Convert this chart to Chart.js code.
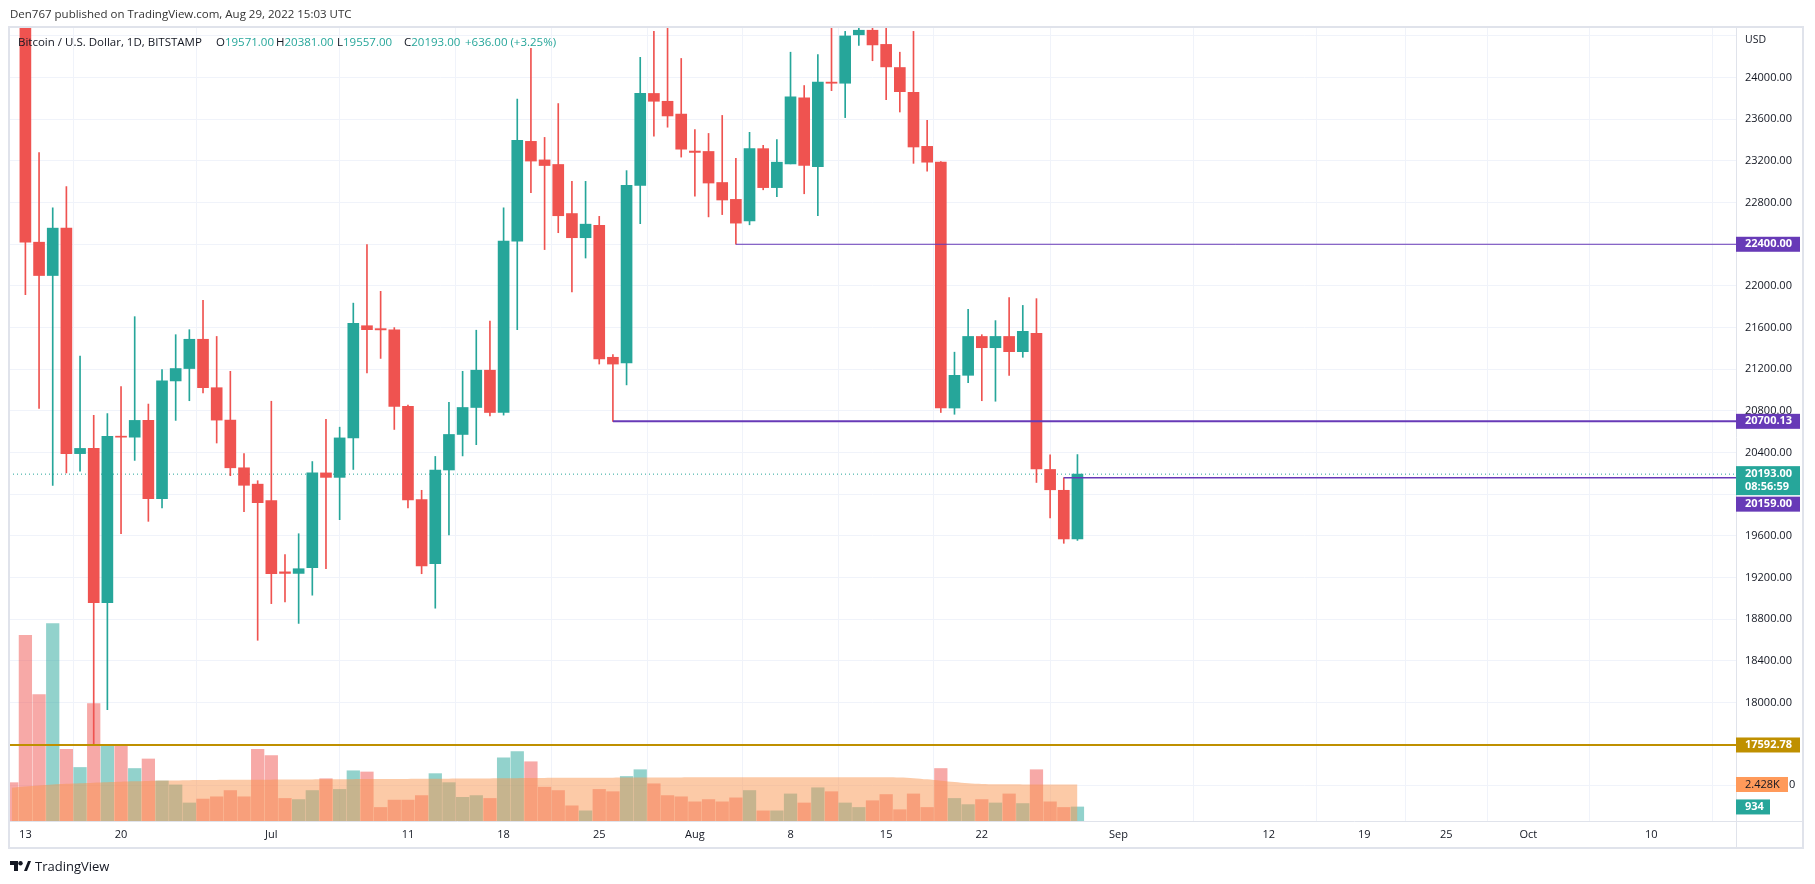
<!DOCTYPE html>
<html>
<head>
<meta charset="utf-8">
<script src="https://cdn.jsdelivr.net/npm/chart.js@4.4.0/dist/chart.umd.min.js"></script>
<style>
  html, body { margin: 0; padding: 0; background: #fff; }
  #wrap { position: relative; width: 1815px; height: 884px; font-family: 'Open Sans', sans-serif; color: #131722; }
  #wrap canvas { position: absolute; left: 0; top: 0; }
  .txt { position: absolute; font-size: 11.5px; white-space: pre; line-height: 14px; }
  .up { color: #26a69a; }
  .brand { position: absolute; left: 10px; top: 857px; font-size: 13px; line-height: 18px; display: flex; align-items: center; }
  .brand svg { margin-right: 4px; }
</style>
</head>
<body>
<div id="wrap">
  <canvas id="btc" width="1815" height="884"></canvas>
  <div class="txt" style="left:10px; top:7px; color:#333;">Den767 published on TradingView.com, Aug 29, 2022 15:03 UTC</div>
  <div class="txt" style="left:18px; top:35px;">Bitcoin / U.S. Dollar, 1D, BITSTAMP</div>
  <div class="txt" style="left:216px; top:35px;">O<span class="up">19571.00</span></div>
  <div class="txt" style="left:276px; top:35px;">H<span class="up">20381.00</span></div>
  <div class="txt" style="left:337px; top:35px;">L<span class="up">19557.00</span></div>
  <div class="txt" style="left:404px; top:35px;">C<span class="up">20193.00</span></div>
  <div class="txt up" style="left:465px; top:35px;">+636.00 (+3.25%)</div>
  <div class="brand">
    <svg width="21" height="10" viewBox="0 0 21 10"><path d="M0 0h8v10h-4v-6h-4z" fill="#131722"/><circle cx="10.5" cy="2.2" r="2.2" fill="#131722"/><path d="M14 10l4-10h3l-4 10z" fill="#131722"/></svg>
    <span>TradingView</span>
  </div>
</div>
<script>
// daily candles, Jun 12 .. Aug 29 2022 (day 0 = Jun 13)
const dates = [
  'Jun 12','Jun 13','Jun 14','Jun 15','Jun 16','Jun 17','Jun 18','Jun 19','Jun 20','Jun 21','Jun 22','Jun 23','Jun 24','Jun 25','Jun 26','Jun 27','Jun 28','Jun 29','Jun 30',
  'Jul 1','Jul 2','Jul 3','Jul 4','Jul 5','Jul 6','Jul 7','Jul 8','Jul 9','Jul 10','Jul 11','Jul 12','Jul 13','Jul 14','Jul 15','Jul 16','Jul 17','Jul 18','Jul 19','Jul 20','Jul 21','Jul 22','Jul 23','Jul 24','Jul 25','Jul 26','Jul 27','Jul 28','Jul 29','Jul 30','Jul 31',
  'Aug 1','Aug 2','Aug 3','Aug 4','Aug 5','Aug 6','Aug 7','Aug 8','Aug 9','Aug 10','Aug 11','Aug 12','Aug 13','Aug 14','Aug 15','Aug 16','Aug 17','Aug 18','Aug 19','Aug 20','Aug 21','Aug 22','Aug 23','Aug 24','Aug 25','Aug 26','Aug 27','Aug 28','Aug 29'
];
const firstDay = -1;

const opens = [
  28400, 26574, 22420, 22100, 22555, 20390, 20440, 18960, 20556, 20548, 20709, 19957, 21088, 21207, 21488, 21023, 20712, 20254, 20097,
  19940, 19255, 19240, 19296, 20205, 20162, 20541, 21618, 21590, 21578, 20844, 19950, 19334, 20233, 20574, 20833, 21191, 20785, 22430, 23388, 23210, 23166, 22695, 22463, 22582, 21315, 21260, 22966, 23848, 23773, 23650,
  23295, 23291, 22993, 22831, 22625, 23318, 22944, 23172, 23805, 23145, 23957, 23946, 24411, 24455, 24319, 24097, 23859, 23340, 23188, 20828, 21142, 21515, 21407, 21515, 21369, 21544, 20238, 20038, 19571
];
const highs = [
  28540, 26895, 23280, 22750, 22955, 21326, 20758, 20774, 21034, 21705, 20866, 21196, 21532, 21580, 21862, 21515, 21180, 20390, 20130,
  20893, 19421, 19621, 20314, 20720, 20644, 21835, 22398, 21948, 21600, 20855, 20038, 20363, 20882, 21180, 21575, 21662, 22750, 23794, 24281, 23426, 23751, 23004, 23004, 22668, 21342, 23107, 24195, 24444, 24670, 24184,
  23502, 23464, 23637, 23226, 23475, 23350, 23405, 24244, 23924, 24222, 24900, 24444, 24890, 25050, 25210, 24244, 24444, 23589, 23194, 21364, 21775, 21532, 21667, 21889, 21813, 21878, 20379, 20159, 20381
];
const lows = [
  26560, 21916, 20823, 20086, 20206, 20222, 17592.78, 17932, 19621, 20325, 19740, 19870, 20709, 20898, 20974, 20492, 20178, 19832, 18598,
  18950, 18966, 18760, 19031, 19285, 19756, 20238, 21164, 21304, 20622, 19870, 19237, 18906, 19610, 20368, 20476, 20752, 20760, 21580, 22896, 22349, 22511, 21943, 22268, 21250, 20700.13, 21050, 22598, 23437, 23524, 23237,
  22863, 22663, 22685, 22400, 22587, 22923, 22858, 23172, 22885, 22674, 23875, 23616, 24309, 24162, 23789, 23670, 23177, 23101, 20785, 20768, 21072, 20898, 20893, 21142, 21315, 20113, 19772, 19529, 19557
];
const closes = [
  26574, 22420, 22100, 22555, 20390, 20440, 18960, 20556, 20548, 20709, 19957, 21088, 21207, 21488, 21023, 20712, 20254, 20086, 19919,
  19237, 19240, 19285, 20205, 20162, 20541, 21640, 21580, 21578, 20844, 19946, 19312, 20233, 20574, 20833, 21191, 20785, 22430, 23399, 23199, 23156, 22674, 22463, 22593, 21299, 21250, 22966, 23848, 23773, 23632, 23313,
  23282, 22988, 22825, 22603, 23318, 22944, 23188, 23816, 23156, 23957, 23946, 24400, 24455, 24314, 24103, 23865, 23334, 23188, 20828, 21142, 21515, 21407, 21515, 21369, 21564, 20243, 20043, 19571, 20193
];
const volumes = [
  2550, 12340, 8400, 13125, 4760, 3560, 7800, 4990, 4990, 3490, 4125, 2660, 2400, 1200, 1460, 1610, 2025, 1610, 4760,
  4350, 1500, 1425, 2025, 2810, 2100, 3340, 3260, 900, 1390, 1390, 1690, 3150, 2550, 1575, 1690, 1500, 4200, 4610, 3940, 2250, 2025, 1010, 675, 2100, 1950, 2960, 3410, 2475, 1690, 1610,
  1275, 1425, 1275, 1540, 2025, 675, 675, 1800, 1200, 2210, 1950, 1200, 900, 1350, 1760, 750, 1800, 900, 3490, 1500, 1090, 1425, 1200, 1800, 1160, 3410, 1275, 900, 934
];
const volumeMA = [
  2210, 2290, 2360, 2420, 2470, 2510, 2550, 2580, 2610, 2640, 2665, 2685, 2700, 2715, 2725, 2730, 2735, 2740, 2745,
  2750, 2755, 2760, 2765, 2770, 2775, 2780, 2785, 2790, 2795, 2800, 2805, 2810, 2815, 2820, 2825, 2830, 2840, 2850, 2860, 2865, 2870, 2870, 2875, 2875, 2880, 2885, 2890, 2895, 2900, 2900,
  2905, 2905, 2905, 2910, 2910, 2910, 2910, 2915, 2915, 2915, 2915, 2915, 2915, 2910, 2905, 2890, 2850, 2770, 2680, 2590, 2510, 2460, 2445, 2440, 2435, 2432, 2430, 2429, 2428
];

// time axis
const tickDays = [0, 7, 18, 28, 35, 42, 49, 56, 63, 70, 80, 91, 98, 104, 110, 119];
const tickLabels = ['13', '20', 'Jul', '11', '18', '25', 'Aug', '8', '15', '22', 'Sep', '12', '19', '25', 'Oct', '10'];
const priceTicks = [17200, 17600, 18000, 18400, 18800, 19200, 19600, 20000, 20400, 20800, 21200, 21600, 22000, 22400, 22800, 23200, 23600, 24000, 24400];
const hiddenPriceLabels = [20000];

// drawn levels
const levelPrices = [22400, 20700.13, 20159, 17592.78];
const levelStartDays = [52, 43, 76, -1.2];
const lastPrice = 20193;
const countdown = '08:56:59';
const lastVolume = 934;
const lastVolumeMA = 2428;

const xMin = -1.2, xMax = 125.2;
const UP = '#26a69a', DOWN = '#ef5350';
const FONT = "'Open Sans', sans-serif";

const dayOf = i => firstDay + i;
const isUp = i => closes[i] >= opens[i];

const bodies = dates.map((d, i) => ({ x: dayOf(i), y: [opens[i], closes[i]] }));
const wicks = dates.map((d, i) => ({ x: dayOf(i), y: [lows[i], highs[i]] }));
const vols = dates.map((d, i) => ({ x: dayOf(i), y: volumes[i] }));
const volMA = dates.map((d, i) => ({ x: dayOf(i), y: volumeMA[i] }));

const levelColors = ['#673ab7', '#673ab7', '#673ab7', '#bf9000'];
const levelWidths = [1, 2, 1.5, 2];

const levelSets = levelPrices.map((p, k) => ({
  type: 'line',
  data: [{ x: levelStartDays[k], y: p }, { x: xMax, y: p }],
  borderColor: levelColors[k],
  borderWidth: levelWidths[k],
  pointRadius: 0,
  order: 0,
}));

const frame = {
  id: 'frame',
  beforeDraw(chart) {
    const ctx = chart.ctx;
    ctx.save();
    ctx.fillStyle = '#fff';
    ctx.fillRect(0, 0, chart.width, chart.height);
    ctx.restore();
  },
  afterDraw(chart) {
    const { ctx, chartArea: a, scales: { y, v } } = chart;
    ctx.save();
    ctx.strokeStyle = '#e0e3eb';
    ctx.lineWidth = 1;
    ctx.beginPath();
    ctx.moveTo(a.right + 0.5, a.top); ctx.lineTo(a.right + 0.5, 848);
    ctx.moveTo(a.left, a.bottom + 0.5); ctx.lineTo(1803, a.bottom + 0.5);
    ctx.stroke();
    ctx.lineWidth = 2;
    ctx.strokeRect(a.left, a.top, 1803 - a.left, 848 - a.top);

    ctx.font = '10.5px ' + FONT;
    ctx.fillStyle = '#131722';
    ctx.textBaseline = 'middle';
    ctx.fillText('USD', a.right + 9, 40);

    const box = (yc, h, w, bg, lines, fg, bold) => {
      ctx.fillStyle = bg;
      ctx.fillRect(a.right, yc - h / 2, w, h);
      ctx.fillStyle = fg;
      ctx.font = (bold ? 'bold ' : '') + '11px ' + FONT;
      lines.forEach((t, j) => ctx.fillText(t, a.right + 9, yc - (lines.length - 1) * 6.5 + j * 13));
    };

    // current price box (two lines), then the level boxes; a level too close below it is pushed down
    const lastY = y.getPixelForValue(lastPrice);
    const lastBottom = lastY + 6.5 + 14.5;
    box(lastY + 6.5, 29, 64, UP, [lastPrice.toFixed(2), countdown], '#fff', true);
    levelPrices.forEach((p, k) => {
      let yc = y.getPixelForValue(p);
      if (yc > lastY - 15 && yc < lastBottom + 8) yc = lastBottom + 9;
      box(yc, 15, 64, levelColors[k], [p.toFixed(2)], '#fff', true);
    });

    ctx.font = '11px ' + FONT;
    ctx.fillStyle = '#131722';
    ctx.fillText('0', a.right + 53, v.getPixelForValue(lastVolumeMA));
    box(v.getPixelForValue(lastVolumeMA), 15, 52, '#ff9a5a', [(lastVolumeMA / 1000).toFixed(3) + 'K'], '#131722', false);
    box(v.getPixelForValue(lastVolume), 15, 34, UP, [String(lastVolume)], '#fff', true);
    ctx.restore();
  }
};

new Chart(document.getElementById('btc'), {
  type: 'bar',
  data: {
    datasets: [
      ...levelSets,
      {
        type: 'bar', data: bodies, grouped: false, barThickness: 11, minBarLength: 1,
        backgroundColor: dates.map((d, i) => isUp(i) ? UP : DOWN), order: 1,
      },
      {
        type: 'bar', data: wicks, grouped: false, barThickness: 1,
        backgroundColor: dates.map((d, i) => isUp(i) ? UP : DOWN), order: 2,
      },
      {
        type: 'line', data: [{ x: xMin, y: lastPrice }, { x: xMax, y: lastPrice }],
        borderColor: UP, borderWidth: 1, borderDash: [1, 3], pointRadius: 0, order: 5,
      },
      {
        type: 'line', data: volMA, yAxisID: 'v', fill: 'origin', tension: 0.3,
        backgroundColor: 'rgba(250,150,80,0.5)', borderWidth: 0, pointRadius: 0, order: 9,
      },
      {
        type: 'bar', data: vols, yAxisID: 'v', grouped: false, barThickness: 12.6,
        backgroundColor: dates.map((d, i) => isUp(i) ? 'rgba(38,166,154,0.5)' : 'rgba(239,83,80,0.5)'), order: 10,
      },
    ]
  },
  options: {
    responsive: false,
    animation: false,
    layout: { padding: { left: 9, top: 27, right: 15, bottom: 36 } },
    plugins: { legend: { display: false }, tooltip: { enabled: false } },
    scales: {
      x: {
        type: 'linear', min: xMin, max: xMax, offset: false,
        afterBuildTicks: s => { s.ticks = tickDays.map(d => ({ value: d })); },
        afterFit: s => { s.height = 27; },
        ticks: {
          autoSkip: false, maxRotation: 0, padding: 7, color: '#131722',
          font: { family: FONT, size: 11 },
          callback: (val, i) => tickLabels[i],
        },
        grid: { color: '#f0f3fa', drawTicks: false },
        border: { display: false },
      },
      y: {
        type: 'linear', position: 'right', min: 16863, max: 24486,
        afterBuildTicks: s => { s.ticks = priceTicks.map(p => ({ value: p })); },
        afterFit: s => { s.width = 64; },
        ticks: {
          padding: 9, crossAlign: 'near', color: '#131722',
          font: { family: FONT, size: 11 },
          callback: val => (val >= 18000 && val <= 24000 && !hiddenPriceLabels.includes(val)) ? val.toFixed(2) : '',
        },
        grid: { color: '#f0f3fa', drawTicks: false },
        border: { display: false },
      },
      v: { type: 'linear', display: false, min: 0, max: 52800 },
    }
  },
  plugins: [frame],
});
</script>
</body>
</html>
